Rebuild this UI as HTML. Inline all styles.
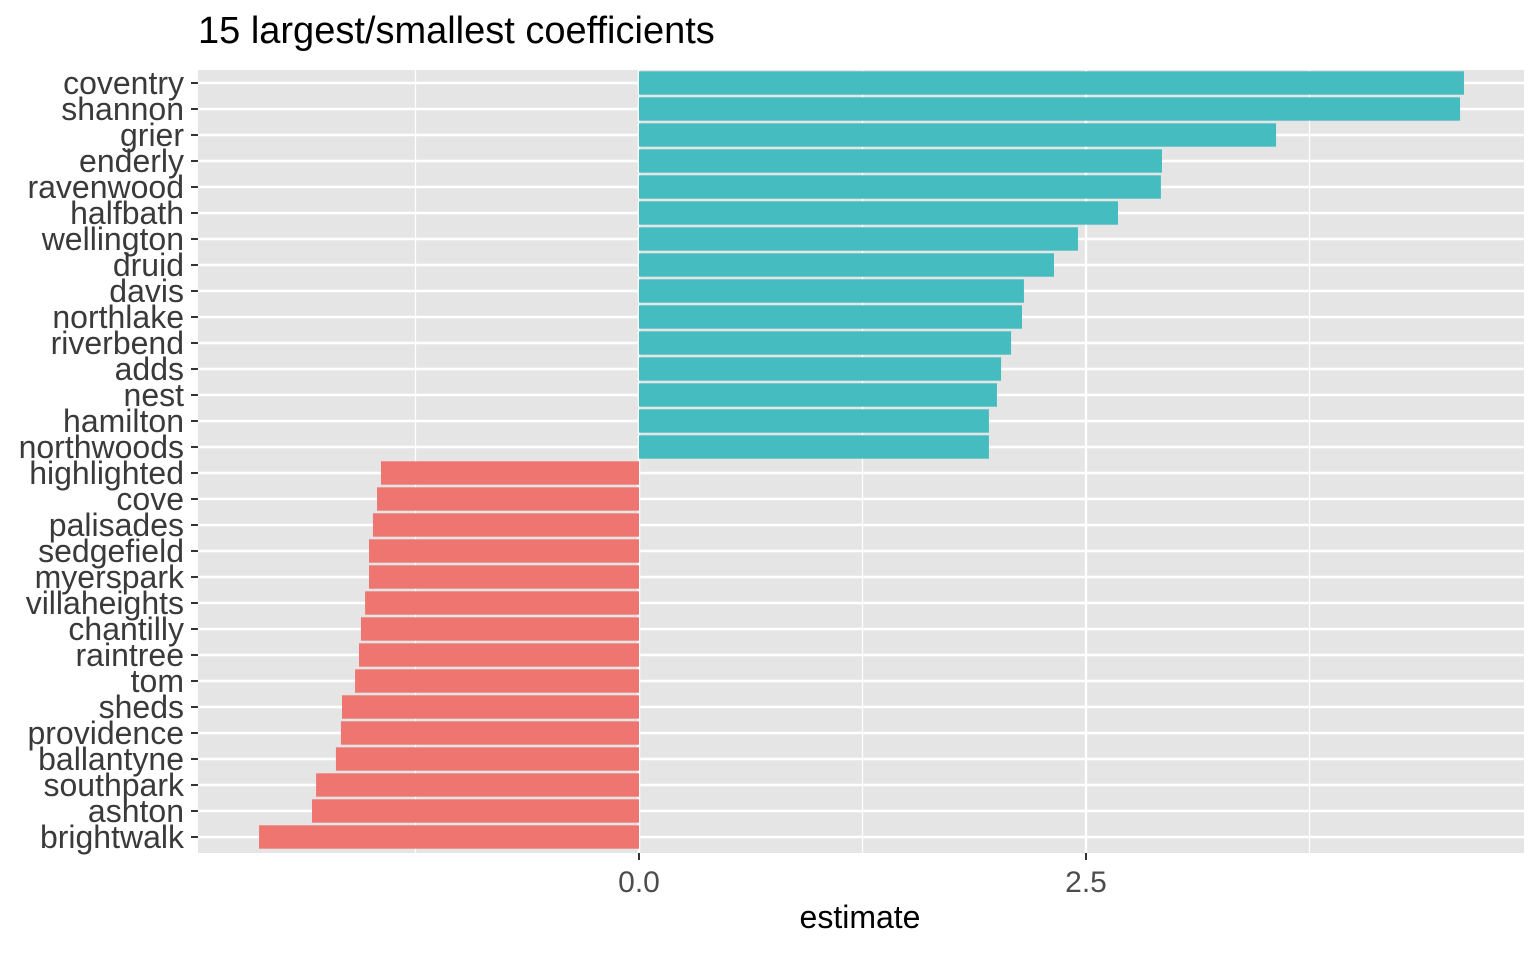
<!DOCTYPE html>
<html><head><meta charset="utf-8"><style>
html,body{margin:0;padding:0;background:#fff;}
svg text{font-family:"Liberation Sans",Arial,sans-serif;}
</style></head><body>
<svg id="chart" width="1540" height="951" xmlns="http://www.w3.org/2000/svg">
<text x="198" y="43" font-size="38" fill="#000">15 largest/smallest coefficients</text>
<rect x="198" y="70" width="1326" height="783" fill="#E5E5E5"/>
<g id="grid"></g><g id="bars"></g><g id="ylabels"></g><g id="xlabels"></g>
<text x="860" y="928" font-size="32" text-anchor="middle" fill="#000">estimate</text>
</svg>
<script>
const categories = ["coventry","shannon","grier","enderly","ravenwood","halfbath","wellington","druid","davis","northlake","riverbend","adds","nest","hamilton","northwoods","highlighted","cove","palisades","sedgefield","myerspark","villaheights","chantilly","raintree","tom","sheds","providence","ballantyne","southpark","ashton","brightwalk"];
const estimates = [4.614,4.592,3.563,2.925,2.919,2.679,2.455,2.321,2.153,2.142,2.081,2.025,2.002,1.957,1.957,-1.443,-1.465,-1.488,-1.510,-1.510,-1.532,-1.555,-1.566,-1.588,-1.661,-1.667,-1.695,-1.806,-1.829,-2.125];
const majorTicks = [0, 2.5];
const tickLabels = ["0.0","2.5"];
const minorTicks = [-1.25, 1.25, 3.75];

const NS="http://www.w3.org/2000/svg";
const panelL=198, panelR=1524;
const x = v => 639 + v*178.8;
const y = i => 83 + i*26;
function mk(tag, attrs, parent){const e=document.createElementNS(NS,tag);for(const k in attrs)e.setAttribute(k,attrs[k]);document.getElementById(parent).appendChild(e);return e;}

minorTicks.forEach(t=>{
  const l=mk('line',{x1:x(t),x2:x(t),y1:70,y2:853,stroke:'#fff','stroke-width':1.2},'grid');
  
  
});
categories.forEach((c,i)=>{
  const l=mk('line',{x1:panelL,x2:panelR,y1:y(i),y2:y(i),stroke:'#fff','stroke-width':2.4},'grid');
  
  
});
majorTicks.forEach((t,k)=>{
  const l=mk('line',{x1:x(t),x2:x(t),y1:70,y2:853,stroke:'#fff','stroke-width':2.4},'grid');
  
  
  const tk=mk('line',{x1:x(t),x2:x(t),y1:853,y2:860,stroke:'#333','stroke-width':2},'xlabels');
  
  
  const tx=mk('text',{x:x(t),y:892,'font-size':30,'text-anchor':'middle',fill:'#4D4D4D'},'xlabels');
  tx.textContent=tickLabels[k];
  
  
});
categories.forEach((c,i)=>{
  const v=estimates[i];
  const x0=Math.min(x(0),x(v)), w=Math.abs(x(v)-x(0));
  const r=mk('rect',{x:x0,y:y(i)-11.7,width:w,height:23.4,fill:v>=0?'#45BDC0':'#EF7670'},'bars');
  
  
  const tk=mk('line',{x1:191,x2:198,y1:y(i),y2:y(i),stroke:'#333','stroke-width':2},'ylabels');
  
  
  const t=mk('text',{x:184,y:y(i)+11,'font-size':32,'text-anchor':'end',fill:'#3A3A3A'},'ylabels');
  t.textContent=c;
  
  
});
</script>
</body></html>
